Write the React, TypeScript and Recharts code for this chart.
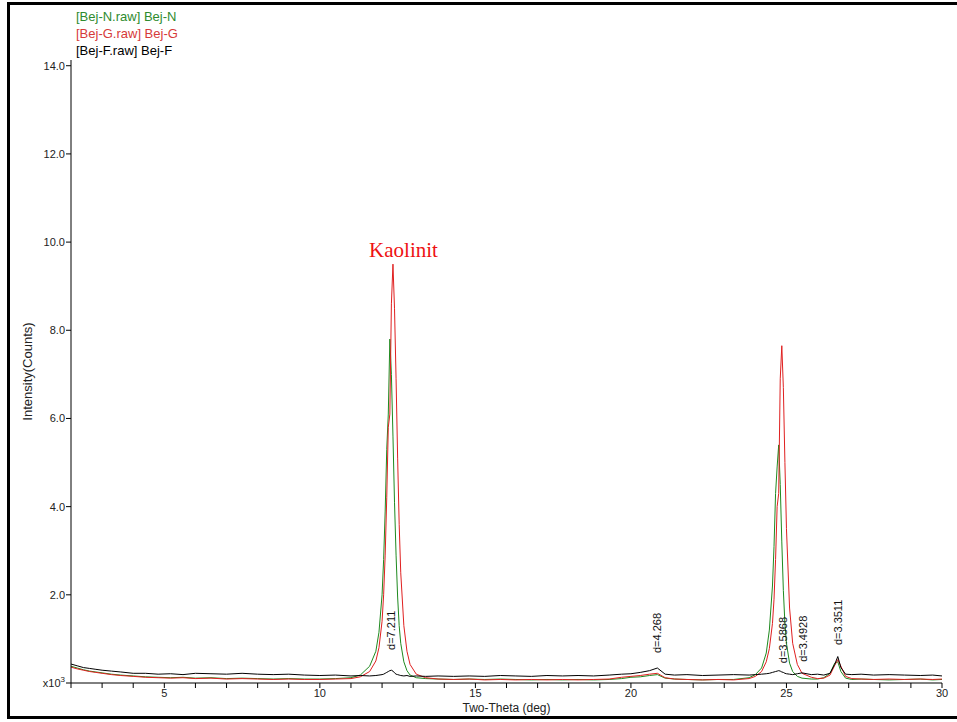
// XRD patterns of three clay samples (Bej-N / Bej-G / Bej-F), intensity in 10^3 counts.
import { LineChart, Line, XAxis, YAxis, ReferenceDot } from 'recharts';

const twoTheta = [
  2.0, 2.2, 2.4, 2.6, 2.8, 3.0, 3.3, 3.6, 4.0, 4.4, 4.8, 5.2, 5.6, 6.0, 6.5, 7.0, 7.5, 8.0, 8.5, 9.0,
  9.5, 10.0, 10.5, 11.0, 11.3, 11.6, 11.8, 11.9, 12.0, 12.05, 12.1, 12.15, 12.2, 12.25, 12.3, 12.35,
  12.4, 12.45, 12.5, 12.55, 12.6, 12.7, 12.8, 12.9, 13.1, 13.4, 13.8, 14.3, 14.8, 15.3, 15.8, 16.3,
  16.8, 17.3, 17.8, 18.3, 18.8, 19.3, 19.7, 20.0, 20.3, 20.6, 20.85, 21.1, 21.4, 21.8, 22.3, 22.8,
  23.3, 23.8, 24.0, 24.2, 24.35, 24.45, 24.55, 24.6, 24.65, 24.7, 24.75, 24.8, 24.85, 24.9, 24.95,
  25.0, 25.1, 25.2, 25.35, 25.5, 25.8, 26.0, 26.2, 26.4, 26.55, 26.65, 26.75, 26.9, 27.1, 27.4, 27.8,
  28.3, 28.8, 29.3, 29.7, 30.0,
];

// Bej-N (green)
const bejN = [
  0.38, 0.34, 0.3, 0.27, 0.25, 0.23, 0.2, 0.18, 0.16, 0.14, 0.13, 0.12, 0.13, 0.11, 0.12, 0.1, 0.11, 0.1, 0.09, 0.1,
  0.09, 0.09, 0.1, 0.12, 0.18, 0.38, 0.72, 1.15, 2.0, 2.8, 3.9, 5.3, 6.1, 7.8, 7.0, 5.6,
  4.1, 2.9, 1.95, 1.3, 0.9, 0.48, 0.28, 0.18, 0.12, 0.1, 0.09, 0.08, 0.09, 0.08, 0.09, 0.08,
  0.07, 0.08, 0.07, 0.08, 0.07, 0.08, 0.1, 0.13, 0.14, 0.17, 0.19, 0.11, 0.09, 0.08, 0.07, 0.08,
  0.08, 0.12, 0.19, 0.34, 0.68, 1.2, 2.2, 3.1, 4.3, 4.9, 5.4, 4.5, 3.2, 2.1, 1.35,
  0.9, 0.45, 0.26, 0.15, 0.11, 0.09, 0.09, 0.12, 0.22, 0.45, 0.48, 0.26, 0.11, 0.08, 0.09, 0.08,
  0.07, 0.08, 0.09, 0.07, 0.08,
];

// Bej-G (red)
const bejG = [
  0.36, 0.32, 0.29, 0.26, 0.24, 0.22, 0.19, 0.17, 0.15, 0.13, 0.12, 0.11, 0.12, 0.1, 0.11, 0.09, 0.1, 0.09, 0.08, 0.09,
  0.08, 0.08, 0.09, 0.1, 0.14, 0.26, 0.5, 0.8, 1.4, 2.0, 2.9, 4.2, 5.8, 6.1, 8.6, 9.5,
  8.5, 6.9, 5.1, 3.6, 2.5, 1.3, 0.72, 0.42, 0.2, 0.12, 0.09, 0.08, 0.09, 0.07, 0.08, 0.07,
  0.08, 0.07, 0.08, 0.07, 0.08, 0.09, 0.13, 0.15, 0.17, 0.2, 0.22, 0.12, 0.09, 0.08, 0.07, 0.08,
  0.07, 0.1, 0.15, 0.26, 0.48, 0.78, 1.35, 1.9, 2.8, 4.0, 4.3, 6.9, 7.65, 6.7, 5.0,
  3.5, 1.7, 0.9, 0.42, 0.22, 0.13, 0.1, 0.11, 0.18, 0.4, 0.53, 0.38, 0.15, 0.1, 0.09, 0.08,
  0.09, 0.08, 0.09, 0.08, 0.09,
];

// Bej-F (black)
const bejF = [
  0.43, 0.39, 0.35, 0.33, 0.31, 0.29, 0.27, 0.25, 0.22, 0.22, 0.2, 0.21, 0.19, 0.22, 0.21, 0.2, 0.22, 0.2, 0.19, 0.2,
  0.18, 0.17, 0.18, 0.16, 0.17, 0.16, 0.17, 0.18, 0.19, 0.2, 0.22, 0.24, 0.26, 0.28, 0.29, 0.27,
  0.23, 0.2, 0.19, 0.18, 0.17, 0.16, 0.17, 0.15, 0.16, 0.15, 0.16, 0.15, 0.16, 0.15, 0.17, 0.16,
  0.15, 0.17, 0.16, 0.17, 0.16, 0.18, 0.2, 0.21, 0.24, 0.28, 0.34, 0.2, 0.18, 0.19, 0.17, 0.18,
  0.19, 0.18, 0.19, 0.2, 0.21, 0.22, 0.24, 0.25, 0.26, 0.27, 0.28, 0.27, 0.25, 0.24, 0.22,
  0.21, 0.2, 0.19, 0.21, 0.23, 0.19, 0.2, 0.18, 0.22, 0.42, 0.6, 0.35, 0.2, 0.19, 0.2, 0.18,
  0.19, 0.18, 0.17, 0.18, 0.16,
];

const xTicks = [2, 3, 4, 5, 6, 7, 8, 9, 10, 11, 12, 13, 14, 15, 16, 17, 18, 19, 20, 21, 22, 23, 24, 25, 26, 27, 28, 29, 30];
const yTicks = [0, 2, 4, 6, 8, 10, 12, 14];

// d-spacing annotations (rotated), anchored at the bottom of the text
const peakLabels = ['d=7.211', 'd=4.268', 'd=3.5868', 'd=3.4928', 'd=3.3511'];
const peakTheta = [12.3, 20.83, 24.9, 25.54, 26.67];
const peakLabelBase = [0.75, 0.68, 0.45, 0.48, 0.86];

const GREEN = '#1f8a1f';
const RED = '#e02020';
const FONT = 'Arial, "Liberation Sans", sans-serif';

const toRows = (ys: number[]) => twoTheta.map((x, i) => ({ x, y: ys[i] }));

function YTick({ x, y, payload }: any) {
  if (payload.value === 0) {
    return (
      <text x={x} y={y + 4} textAnchor="end" fontSize={11} fill="#222" fontFamily={FONT}>
        x10<tspan dy={-5} fontSize={8}>3</tspan>
      </text>
    );
  }
  return (
    <text x={x} y={y + 4} textAnchor="end" fontSize={11} fill="#222" fontFamily={FONT}>
      {payload.value.toFixed(1)}
    </text>
  );
}

function PeakLabel({ viewBox, text }: any) {
  const x = viewBox.x + 4;
  const y = viewBox.y;
  return (
    <text x={x} y={y} transform={`rotate(-90 ${x} ${y})`} fontSize={11} fill="#111" fontFamily={FONT}>
      {text}
    </text>
  );
}

function KaolinitLabel({ viewBox }: any) {
  return (
    <text
      x={viewBox.x}
      y={viewBox.y}
      textAnchor="middle"
      fontSize={21}
      fill="#ee1111"
      fontFamily='"Liberation Serif", "Times New Roman", serif'
    >
      Kaolinit
    </text>
  );
}

function YTitle({ viewBox }: any) {
  const x = viewBox.x + 21;
  const y = viewBox.y + viewBox.height / 2;
  return (
    <text x={x} y={y} transform={`rotate(-90 ${x} ${y})`} textAnchor="middle" fontSize={13} fill="#222" fontFamily={FONT}>
      Intensity(Counts)
    </text>
  );
}

export default function App() {
  return (
    <div style={{ position: 'absolute', left: 0, top: 0, width: 957, height: 722, fontFamily: FONT, overflow: 'hidden' }}>
      <div
        style={{
          position: 'absolute',
          left: 7,
          top: 2,
          width: 970,
          height: 717,
          border: '3px solid #000',
          boxSizing: 'border-box',
        }}
      />
      <div style={{ position: 'absolute', left: 76, top: 8, fontSize: 13, lineHeight: '17px' }}>
        <div style={{ color: '#2e8b2e' }}>[Bej-N.raw] Bej-N</div>
        <div style={{ color: '#d63a3a' }}>[Bej-G.raw] Bej-G</div>
        <div style={{ color: '#000' }}>[Bej-F.raw] Bej-F</div>
      </div>
      <div style={{ position: 'absolute', left: 0, top: 0 }}>
        <LineChart width={957} height={722} margin={{ top: 60, right: 15, bottom: 9, left: 11 }}>
          <XAxis
            dataKey="x"
            type="number"
            domain={[2, 30]}
            ticks={xTicks}
            interval={0}
            allowDataOverflow
            height={30}
            tickSize={5}
            tickMargin={1}
            tickFormatter={(v: number) => (v % 5 === 0 ? String(v) : '')}
            tick={{ fontSize: 11, fill: '#222', fontFamily: FONT }}
            stroke="#000"
            label={{ value: 'Two-Theta (deg)', position: 'insideBottom', offset: 1, fontSize: 12, fill: '#222', fontFamily: FONT }}
          />
          <XAxis xAxisId="top" orientation="top" type="number" domain={[2, 30]} height={0} tick={false} tickLine={false} stroke="#000" />
          <YAxis
            type="number"
            domain={[0, 14.13]}
            ticks={yTicks}
            interval={0}
            allowDataOverflow
            width={60}
            tickSize={5}
            tickMargin={1}
            tick={<YTick />}
            stroke="#000"
            label={<YTitle />}
          />
          <YAxis
            yAxisId="right"
            orientation="right"
            type="number"
            domain={[0, 14.13]}
            width={0}
            tick={false}
            tickLine={false}
            axisLine={{ stroke: '#555', strokeWidth: 2 }}
          />
          <Line data={toRows(bejN)} dataKey="y" stroke={GREEN} strokeWidth={1} dot={false} isAnimationActive={false} />
          <Line data={toRows(bejG)} dataKey="y" stroke={RED} strokeWidth={1} dot={false} isAnimationActive={false} />
          <Line data={toRows(bejF)} dataKey="y" stroke="#000" strokeWidth={1} dot={false} isAnimationActive={false} />
          {peakLabels.map((t, i) => (
            <ReferenceDot
              key={t}
              x={peakTheta[i]}
              y={peakLabelBase[i]}
              r={0}
              stroke="none"
              fill="none"
              label={<PeakLabel text={t} />}
            />
          ))}
          <ReferenceDot x={12.69} y={9.66} r={0} stroke="none" fill="none" label={<KaolinitLabel />} />
        </LineChart>
      </div>
    </div>
  );
}
